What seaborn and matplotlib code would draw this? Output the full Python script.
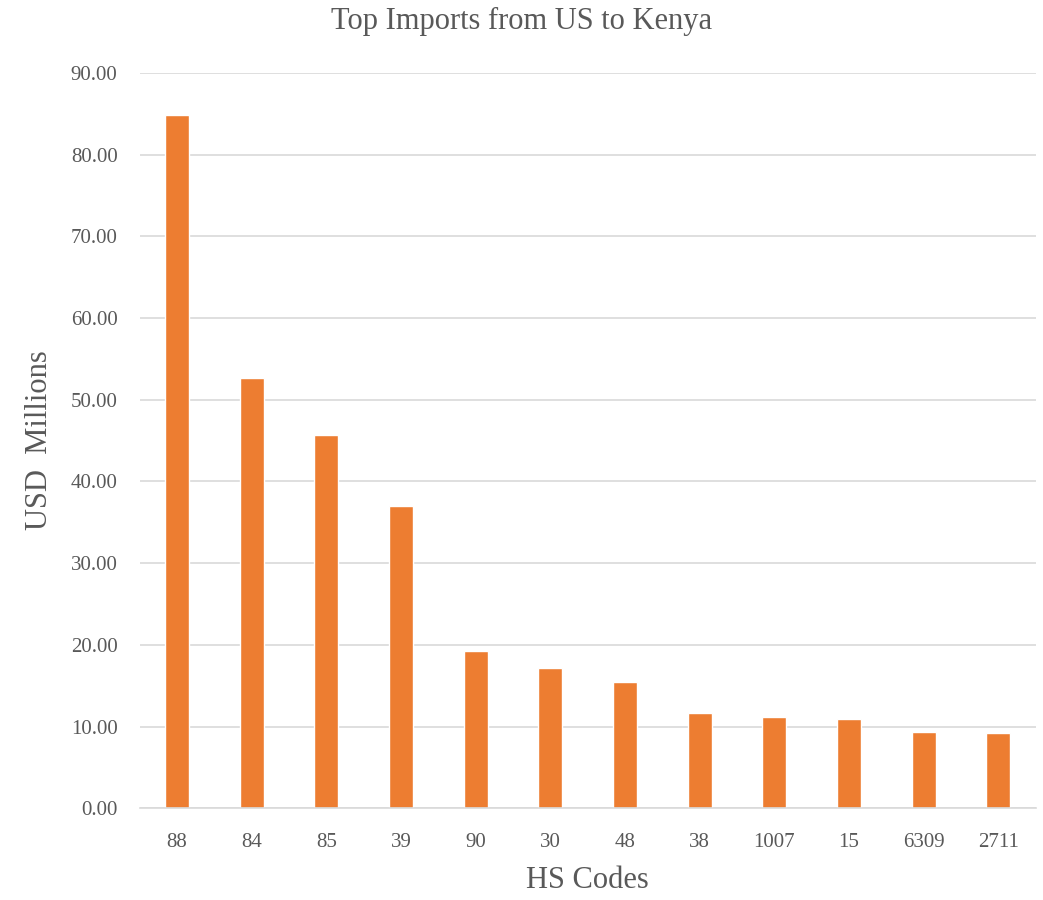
import matplotlib
matplotlib.use("Agg")
import matplotlib.pyplot as plt
import seaborn as sns
import pandas as pd

hs_codes = ["88", "84", "85", "39", "90", "30", "48", "38", "1007", "15", "6309", "2711"]
values = [84.8, 52.6, 45.7, 37.0, 19.2, 17.1, 15.5, 11.6, 11.2, 10.9, 9.35, 9.2]
y_ticks = [0, 10, 20, 30, 40, 50, 60, 70, 80, 90]

sns.set_style("white")
plt.rcParams['font.family'] = ['Liberation Serif', 'DejaVu Serif']

df = pd.DataFrame({"code": hs_codes, "value": values})

fig = plt.figure(figsize=(10.43, 9), dpi=100)
ax = fig.add_axes([0.134, 0.102, 0.859, 0.817])
sns.barplot(data=df, x="code", y="value", order=hs_codes, color="#ED7D31",
            saturation=1, width=0.32, ax=ax)

txt = "#595959"
ax.set_ylim(0, 90)
ax.set_yticks(y_ticks)
ax.set_yticklabels([f"{v:.2f}" for v in y_ticks])
ax.yaxis.grid(True, color="#d9d9d9", linewidth=1.2)
ax.set_axisbelow(True)
for s in ["top", "right", "left"]:
    ax.spines[s].set_visible(False)
ax.spines["bottom"].set_color("#d9d9d9")
ax.spines["bottom"].set_linewidth(1.2)
ax.tick_params(axis="both", length=0, labelsize=15, colors=txt)
ax.tick_params(axis="x", pad=18)
ax.tick_params(axis="y", pad=16)
ax.set_xlabel("HS Codes", fontsize=22, color=txt, labelpad=10)
ax.set_ylabel("USD  Millions", fontsize=22, color=txt, labelpad=12)
fig.suptitle("Top Imports from US to Kenya", fontsize=22, color=txt, y=0.992)

fig.savefig("out.png", dpi=100)
